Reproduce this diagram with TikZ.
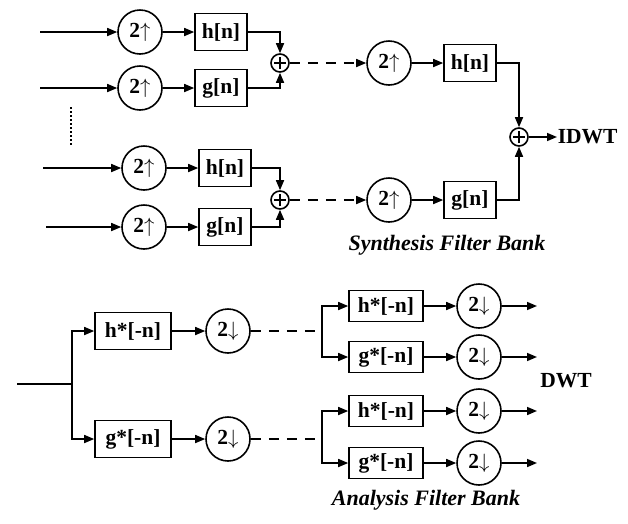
\documentclass[tikz,border=0pt]{standalone}
\usepackage{fontspec}
\setmainfont{Liberation Serif}
\usetikzlibrary{arrows.meta}
\newcommand{\upsmp}{2$\uparrow$}
\newcommand{\dnsmp}{2$\downarrow$}
\begin{document}
\begin{tikzpicture}[x=1pt,y=-1pt,
  line width=1.6pt,
  >={Triangle[length=10pt,width=8pt]},
  txt/.style={font=\fontsize{21.5}{23}\selectfont\bfseries},
  updown/.style={circle,draw,minimum size=44pt,inner sep=0pt,txt},
  fbox/.style={draw,minimum width=52pt,minimum height=37pt,inner sep=0pt,txt},
  abox/.style={fbox,minimum width=76pt},
  sbox/.style={fbox,minimum width=74pt,minimum height=31pt},
  sumnode/.style={circle,draw,minimum size=18pt,inner sep=0pt,
    path picture={\draw[line width=1.1pt]
      ([xshift=-6pt]path picture bounding box.center) -- ([xshift=6pt]path picture bounding box.center)
      ([yshift=-6pt]path picture bounding box.center) -- ([yshift=6pt]path picture bounding box.center);}},
  dashedline/.style={dash pattern=on 10pt off 8pt},
  caption/.style={font=\fontsize{22}{24}\selectfont\bfseries\itshape},
]
\useasboundingbox (0,0) rectangle (628,523);

% ---------- Synthesis ----------
\coordinate (in1) at (40,32);
\coordinate (in2) at (40,88);
\coordinate (in3) at (43,168);
\coordinate (in4) at (46,227);
\node[updown] (u1) at (140,32) {\upsmp};
\node[updown] (u2) at (140,88) {\upsmp};
\node[updown] (u3) at (144,168) {\upsmp};
\node[updown] (u4) at (144,227) {\upsmp};
\node[fbox] (b1) at (221,32) {h[n]};
\node[fbox] (b2) at (221,88) {g[n]};
\node[fbox] (b3) at (225,168) {h[n]};
\node[fbox] (b4) at (225,227) {g[n]};
\node[sumnode] (s1) at (280,63) {};
\node[sumnode] (s2) at (280,200) {};
\coordinate (dt1) at (71,107);
\coordinate (dt2) at (71,146);
\draw[line width=1.4pt,dash pattern=on 2pt off 2pt] (dt1) -- (dt2);

\draw[->] (in1) -- (u1);
\draw[->] (in2) -- (u2);
\draw[->] (in3) -- (u3);
\draw[->] (in4) -- (u4);
\draw[->] (u1) -- (b1);
\draw[->] (u2) -- (b2);
\draw[->] (u3) -- (b3);
\draw[->] (u4) -- (b4);
\draw[->] (b1.east) -| (s1.north);
\draw[->] (b2.east) -| (s1.south);
\draw[->] (b3.east) -| (s2.north);
\draw[->] (b4.east) -| (s2.south);

\node[updown] (u5) at (389,63) {\upsmp};
\node[updown] (u6) at (389,200) {\upsmp};
\node[fbox] (b5) at (470,63) {h[n]};
\node[fbox] (b6) at (470,200) {g[n]};
\node[sumnode] (s3) at (519,137) {};
\node[txt,anchor=west,inner sep=0pt] (idwt) at (557,137) {IDWT};

\draw[dashedline,->] (s1) -- (u5);
\draw[dashedline,->] (s2) -- (u6);
\draw[->] (u5) -- (b5);
\draw[->] (u6) -- (b6);
\draw[->] (b5.east) -| (s3.north);
\draw[->] (b6.east) -| (s3.south);
\draw[->] (s3) -- (idwt);
\node[caption] (syn) at (447,245) {Synthesis Filter Bank};

% ---------- Analysis ----------
\coordinate (ain) at (17,384);
\coordinate (br1) at (72,384);
\node[abox] (a1) at (133,331) {h*[-n]};
\node[abox] (a2) at (133,439) {g*[-n]};
\node[updown] (d1) at (228,331) {\dnsmp};
\node[updown] (d2) at (228,439) {\dnsmp};
\draw (ain) -- (br1);
\draw[->] (br1) |- (a1.west);
\draw[->] (br1) |- (a2.west);
\draw[->] (a1) -- (d1);
\draw[->] (a2) -- (d2);

\coordinate (g1) at (322,331);
\coordinate (g2) at (322,439);
\draw[dashedline] (d1) -- (g1);
\draw[dashedline] (d2) -- (g2);

\node[sbox] (a3) at (386,306) {h*[-n]};
\node[sbox] (a4) at (386,357) {g*[-n]};
\node[sbox] (a5) at (386,411) {h*[-n]};
\node[sbox] (a6) at (386,463) {g*[-n]};
\node[updown] (d3) at (479,306) {\dnsmp};
\node[updown] (d4) at (479,357) {\dnsmp};
\node[updown] (d5) at (479,411) {\dnsmp};
\node[updown] (d6) at (479,463) {\dnsmp};
\coordinate (o3) at (537,306);
\coordinate (o4) at (537,357);
\coordinate (o5) at (537,411);
\coordinate (o6) at (537,463);

\draw[->] (g1) |- (a3.west);
\draw[->] (g1) |- (a4.west);
\draw[->] (g2) |- (a5.west);
\draw[->] (g2) |- (a6.west);
\draw[->] (a3) -- (d3);
\draw[->] (a4) -- (d4);
\draw[->] (a5) -- (d5);
\draw[->] (a6) -- (d6);
\draw[->] (d3) -- (o3);
\draw[->] (d4) -- (o4);
\draw[->] (d5) -- (o5);
\draw[->] (d6) -- (o6);

\node[txt] (dwt) at (566,381) {DWT};
\node[caption] (ana) at (426,500) {Analysis Filter Bank};
\end{tikzpicture}
\end{document}
